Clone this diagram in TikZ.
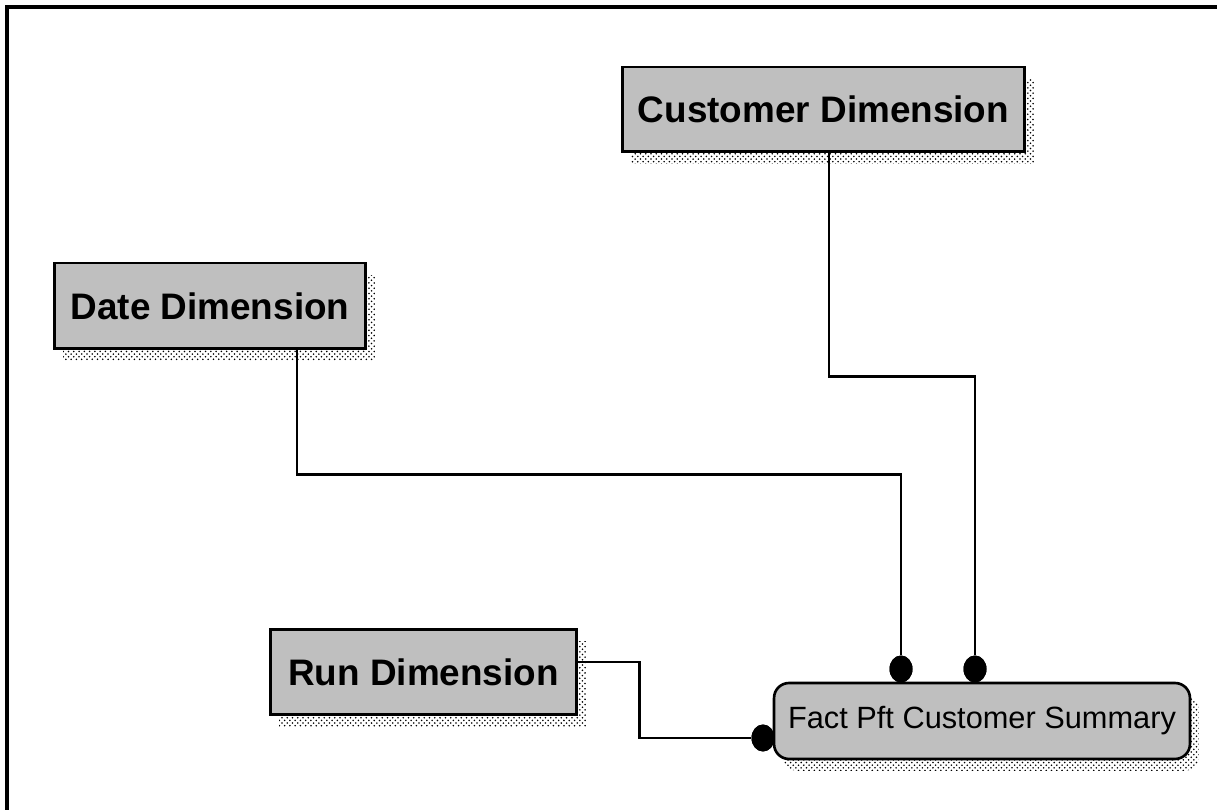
\documentclass[tikz,border=0pt]{standalone}
\usepackage{fontspec}
\setmainfont{Liberation Sans}
\usetikzlibrary{shapes.geometric,shadows,patterns,calc}

\tikzset{
    dimbox/.style={draw, line width=1.7pt, fill=black!25, inner sep=0pt,
        font=\fontsize{21}{25}\selectfont\bfseries,
        drop shadow={shadow xshift=0.18cm, shadow yshift=-0.24cm, opacity=1,
            fill=none, pattern=crosshatch dots, pattern color=black}},
    factbox/.style={dimbox, rounded corners=0.3cm, line width=1.5pt,
        font=\fontsize{17.5}{20}\selectfont},
    link/.style={line width=1.6pt},
    joint/.style={ellipse, fill=black, inner sep=0pt,
        minimum width=0.46cm, minimum height=0.54cm}
}

\begin{document}
\begin{tikzpicture}[x=0.02cm, y=-0.02cm]
        \useasboundingbox (0,0) rectangle (1217,810);
        \draw[line width=2.2pt] (7,810) -- (7,7) -- (1217,7);
        % dimension tables
        \node[dimbox, minimum width=8.06cm, minimum height=1.7cm] (cust) at (823.5,109.5) {Customer Dimension};
        \node[dimbox, minimum width=6.24cm, minimum height=1.72cm] (date) at (210,306) {Date Dimension};
        \node[dimbox, minimum width=6.14cm, minimum height=1.72cm] (run) at (423.5,672) {Run Dimension};
        % fact table
        \node[factbox, minimum width=8.32cm, minimum height=1.52cm] (fact) at (982,721) {Fact Pft Customer Summary};
        \node[joint] (dotd) at (901,669) {};
        \node[joint] (dotc) at (975,669) {};
        \node[joint] (dotr) at (763,738) {};
        \draw[link] ([xshift=0.11cm]cust.south) -- ++(0,223) -| (dotc);
        \draw[link] ([xshift=1.74cm]date.south) -- ++(0,124) -| (dotd);
        \draw[link] ([yshift=0.2cm]run.east) -- ++(61,0) |- (dotr);
        \node[joint] at (dotd) {};
        \node[joint] at (dotc) {};
        \node[joint] at (dotr) {};
    \end{tikzpicture}
\end{document}
